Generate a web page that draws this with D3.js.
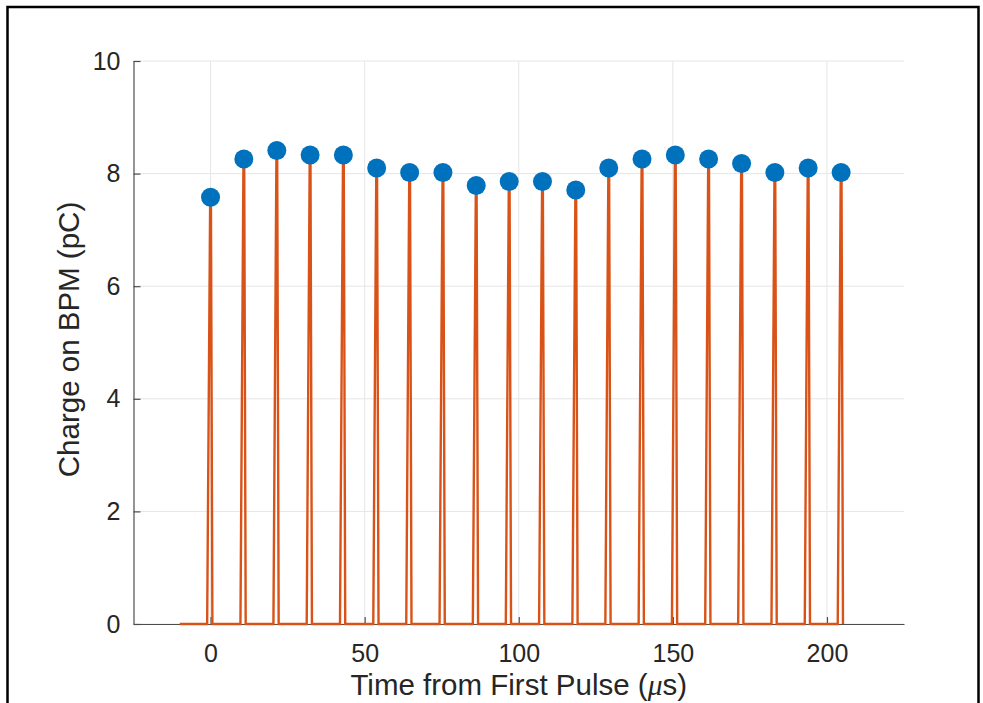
<!DOCTYPE html>
<html>
<head>
<meta charset="utf-8">
<script src="https://cdn.jsdelivr.net/npm/d3@7"></script>
<style>
  body { margin: 0; background: #fff; }
  svg { display: block; }
  text { font-family: Arial, "Liberation Sans", Helvetica, sans-serif; fill: #262626; }
</style>
</head>
<body>
<div id="chart"></div>
<script>
// pulse times (us) and charge (pC)
const pulseTimes = [0, 10.8, 21.5, 32.3, 43.1, 53.9, 64.6, 75.4, 86.2, 96.9,
                    107.7, 118.5, 129.2, 140.0, 150.8, 161.6, 172.3, 183.1, 193.9, 204.6];
const pulseCharge = [7.58, 8.26, 8.41, 8.33, 8.33, 8.10, 8.02, 8.02, 7.79, 7.86,
                     7.86, 7.71, 8.10, 8.26, 8.33, 8.26, 8.18, 8.02, 8.10, 8.02];
const traceStart = -10;   // where the orange trace begins (us)
const xTicks = [0, 50, 100, 150, 200];
const yTicks = [0, 2, 4, 6, 8, 10];
const xDomain = [-25, 225];
const yDomain = [0, 10];

const W = 983, H = 703;
const margin = {left: 133.5, right: 79, top: 61, bottom: 79};

const svg = d3.select("#chart").append("svg")
  .attr("width", W)
  .attr("height", H);

// outer frame (figure border, bottom cut off)
svg.append("rect")
  .attr("x", 7.5).attr("y", 7)
  .attr("width", 971).attr("height", H + 20)
  .attr("fill", "#fff")
  .attr("stroke", "#000")
  .attr("stroke-width", 2.5);

const x = d3.scaleLinear().domain(xDomain).range([margin.left, W - margin.right]);
const y = d3.scaleLinear().domain(yDomain).range([H - margin.bottom, margin.top]);

const g = svg.append("g");

// grid
g.append("g").attr("class", "grid-x")
  .selectAll("line").data(xTicks).enter().append("line")
  .attr("x1", d => x(d)).attr("x2", d => x(d))
  .attr("y1", y(yDomain[0])).attr("y2", y(yDomain[1]))
  .attr("stroke", "#e6e6e6").attr("stroke-width", 1);

g.append("g").attr("class", "grid-y")
  .selectAll("line").data(yTicks).enter().append("line")
  .attr("x1", x(xDomain[0])).attr("x2", x(xDomain[1]))
  .attr("y1", d => y(d)).attr("y2", d => y(d))
  .attr("stroke", "#e6e6e6").attr("stroke-width", 1);

// axes, MATLAB style: ticks pointing inward
const xAxis = d3.axisBottom(x).tickValues(xTicks).tickSizeInner(-7).tickSizeOuter(0).tickPadding(20);
const yAxis = d3.axisLeft(y).tickValues(yTicks).tickSizeInner(-7).tickSizeOuter(0).tickPadding(13);

const gx = g.append("g")
  .attr("transform", "translate(0," + y(0) + ")")
  .call(xAxis);
const gy = g.append("g")
  .attr("transform", "translate(" + x(xDomain[0]) + ",0)")
  .call(yAxis);

[gx, gy].forEach(function(ax){
  ax.select(".domain").attr("stroke", "#4d4d4d").attr("stroke-width", 1.2);
  ax.selectAll(".tick line").attr("stroke", "#4d4d4d").attr("stroke-width", 1.2);
  ax.selectAll(".tick text")
    .style("font-family", "Arial, 'Liberation Sans', sans-serif")
    .style("font-size", "25px")
    .attr("fill", "#262626");
});

// orange charge trace: flat at zero with a narrow spike at every pulse
let trace = [[traceStart, 0]];
pulseTimes.forEach(function(t, i){
  const v = pulseCharge[i];
  trace.push([t - 1.1, 0], [t - 0.12, v], [t + 0.12, v], [t + 0.6, 0]);
});

const line = d3.line().x(d => x(d[0])).y(d => y(d[1]));

g.append("path")
  .datum(trace)
  .attr("d", line)
  .attr("fill", "none")
  .attr("stroke", "#D95319")
  .attr("stroke-width", 2.4)
  .attr("stroke-linejoin", "miter");

// blue markers on pulse peaks
g.selectAll(".pt")
  .data(pulseTimes)
  .enter().append("circle")
  .attr("class", "pt")
  .attr("cx", d => x(d))
  .attr("cy", (d, i) => y(pulseCharge[i]))
  .attr("r", 9.5)
  .attr("fill", "#0072BD");

// axis labels
const xl = svg.append("text")
  .attr("x", (x(xDomain[0]) + x(xDomain[1])) / 2)
  .attr("y", 695)
  .attr("text-anchor", "middle")
  .style("font-size", "29.5px");
xl.append("tspan").text("Time from First Pulse (");
xl.append("tspan").style("font-style", "italic").style("font-family", "'Times New Roman', 'Liberation Serif', serif").text("\u03bc");
xl.append("tspan").text("s)");

svg.append("text")
  .attr("transform", "translate(79," + (y(5) - 3) + ") rotate(-90)")
  .attr("text-anchor", "middle")
  .style("font-size", "29.5px")
  .text("Charge on BPM (pC)");
</script>
</body>
</html>
